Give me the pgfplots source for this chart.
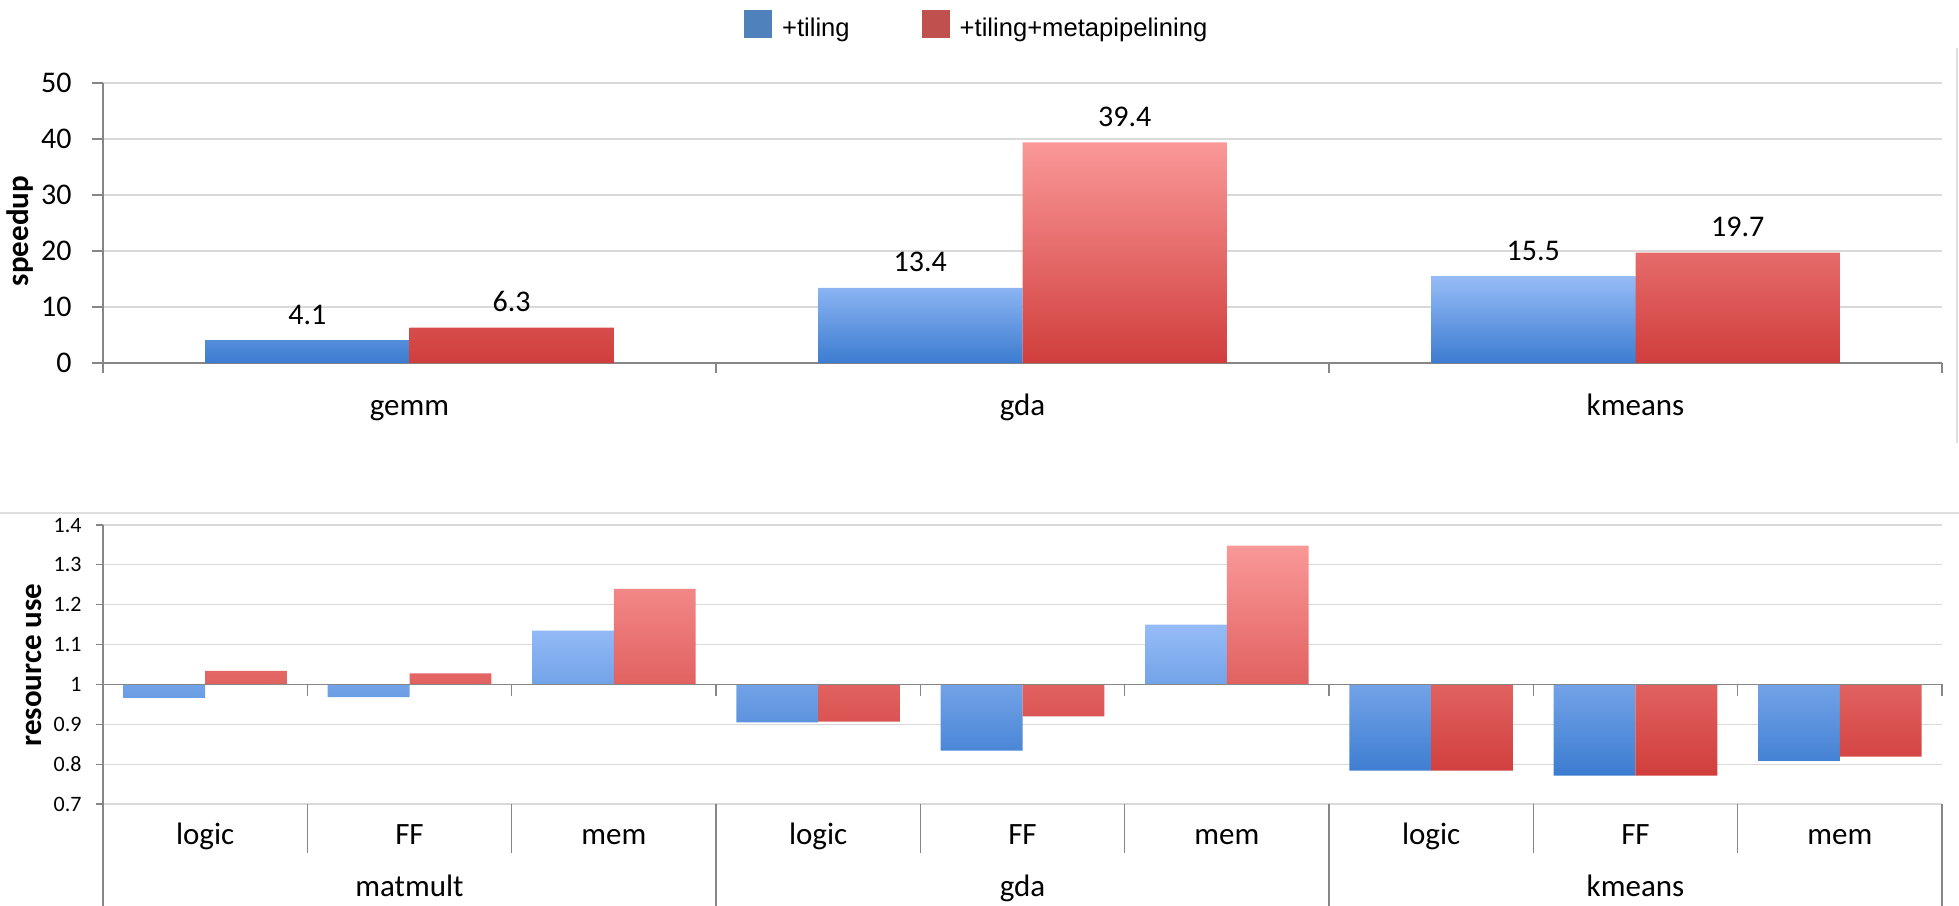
\documentclass[border=0pt]{standalone}
\usepackage{pgfplots}
\pgfplotsset{compat=1.18}
\usepackage{pgfplotstable}
\usepackage{fontspec}
\setmainfont{Carlito}
\newfontfamily\arialfont{Liberation Sans}

\definecolor{bluetop}{RGB}{150,188,247}
\definecolor{bluebot}{RGB}{60,124,208}
\definecolor{redtop}{RGB}{250,152,152}
\definecolor{redbot}{RGB}{208,62,60}
\definecolor{legblue}{RGB}{79,129,189}
\definecolor{legred}{RGB}{192,80,77}
\definecolor{axgray}{RGB}{134,134,134}
\definecolor{gridgray}{RGB}{217,217,217}

\pgfplotstableread{
x tiling meta
0 4.1 6.3
1 13.4 39.4
2 15.5 19.7
}\speedup

\pgfplotstableread{
x tiling meta
0 0.966 1.034
1 0.968 1.028
2 1.135 1.240
3 0.905 0.907
4 0.834 0.920
5 1.150 1.348
6 0.784 0.784
7 0.771 0.771
8 0.808 0.819
}\resource

\begin{document}
\begin{tikzpicture}
\path[use as bounding box] (0pt,-452.5pt) rectangle (979.5pt,0pt);
% faint chart-area borders
\draw[gray!25, line width=0.6pt] (978.5pt,-24pt) -- (978.5pt,-221.5pt);
\draw[gray!25, line width=0.6pt] (0pt,-256.5pt) -- (979.5pt,-256.5pt);

\begin{axis}[
  at={(51.5pt,-181.5pt)}, anchor=south west,
  scale only axis, width=919.5pt, height=140pt,
  clip=false,
  xmin=-0.5, xmax=2.5, ymin=0, ymax=50,
  ytick={0,10,20,30,40,50},
  xtick={0,1,2}, xticklabels={gemm,gda,kmeans},
  axis lines*=left,
  axis line style={axgray, line width=0.6pt},
  xtick style={draw=none},
  ytick style={axgray, line width=0.6pt},
  tick align=outside, major tick length=5.5pt,
  ymajorgrids, grid style={gridgray, line width=0.6pt},
  /pgf/number format/assume math mode=true,
  yticklabel style={font=\fontsize{15}{18}\selectfont, inner sep=0pt, anchor=east, xshift=-10pt},
  xticklabel style={font=\fontsize{15.5}{18}\selectfont, inner sep=0pt, anchor=base, yshift=-20.5pt},
  every axis y label/.style={at={(axis description cs:-0.0451,0.471)}, rotate=90, anchor=center, font=\bfseries\fontsize{15.5}{18}\selectfont},
  ylabel={speedup},
  ybar=0pt, bar width=102.2pt,
  nodes near coords,
  every node near coord/.append style={font=\fontsize{15}{18}\selectfont, anchor=base, inner sep=0pt, yshift=8pt},
  legend image code/.code={\fill[#1] (0pt,-4.7pt) rectangle (14pt,9.2pt); \path (18pt,0pt);},
  legend style={draw=none, fill=none, inner sep=0pt, outer sep=0pt,
    at={(axis description cs:0.3486,1.205)}, anchor=west,
    legend columns=2, font=\arialfont\fontsize{12.8}{15}\selectfont,
    nodes={inner sep=1pt},
    /tikz/every even column/.append style={column sep=35pt}},
  legend cell align=left,
]
\addlegendimage{fill=legblue, draw=none}
\addlegendentry{+tiling}
\addlegendimage{fill=legred, draw=none}
\addlegendentry{+tiling+metapipelining}
\addplot[forget plot, draw=none, top color=bluetop, bottom color=bluebot, bar shift=-51.1pt] table[x=x, y=tiling] {\speedup};
\addplot[forget plot, draw=none, top color=redtop, bottom color=redbot, bar shift=51.1pt] table[x=x, y=meta] {\speedup};
\pgfplotsinvokeforeach{-0.5,0.5,1.5,2.5}{
  \draw[axgray, line width=0.6pt] (axis cs:#1,0) -- ++(0pt,-5pt);
}
\end{axis}

\begin{axis}[
  at={(51.5pt,-402pt)}, anchor=south west,
  scale only axis, width=919.5pt, height=139.5pt,
  clip=false,
  xmin=-0.5, xmax=8.5, ymin=-0.3, ymax=0.4,
  ytick={-0.3,-0.2,-0.1,0,0.1,0.2,0.3,0.4},
  yticklabels={0.7,0.8,0.9,1,1.1,1.2,1.3,1.4},
  xtick={0,1,2,3,4,5,6,7,8},
  xticklabels={logic,FF,mem,logic,FF,mem,logic,FF,mem},
  axis lines*=left,
  y axis line style={axgray, line width=0.6pt},
  x axis line style={gridgray, line width=0.6pt},
  xtick style={draw=none},
  ytick style={axgray, line width=0.6pt},
  tick align=outside, major tick length=3.5pt,
  ymajorgrids, grid style={gridgray, line width=0.6pt},
  yticklabel style={font=\fontsize{11}{13}\selectfont, inner sep=0pt, anchor=east, xshift=-7pt},
  xticklabel style={font=\fontsize{15.5}{18}\selectfont, inner sep=0pt, anchor=base, yshift=-16.5pt},
  every axis y label/.style={at={(axis description cs:-0.0375,0.498)}, rotate=90, anchor=center, font=\bfseries\fontsize{15.5}{18}\selectfont},
  ylabel={resource use},
  ybar=0pt, bar width=40.9pt,
]
\addplot[draw=none, top color=bluetop, bottom color=bluebot, bar shift=-20.45pt] table[x=x, y expr=\thisrow{tiling}-1] {\resource};
\addplot[draw=none, top color=redtop, bottom color=redbot, bar shift=20.45pt] table[x=x, y expr=\thisrow{meta}-1] {\resource};
\draw[axgray, line width=0.6pt] (axis cs:-0.5,0) -- (axis cs:8.5,0);
\pgfplotsinvokeforeach{0.5,1.5,2.5,3.5,4.5,5.5,6.5,7.5,8.5}{
  \draw[axgray, line width=0.6pt] (axis cs:#1,0) -- ++(0pt,-6pt);
}
\pgfplotsinvokeforeach{0.5,1.5,3.5,4.5,6.5,7.5}{
  \draw[axgray, line width=0.6pt] (axis cs:#1,-0.3) -- ++(0pt,-24.5pt);
}
\pgfplotsinvokeforeach{-0.5,2.5,5.5,8.5}{
  \draw[axgray, line width=0.6pt] (axis cs:#1,-0.3) -- ++(0pt,-51pt);
}
\node[font=\fontsize{15.5}{18}\selectfont, anchor=base, inner sep=0pt] at ([yshift=-46.3pt]axis cs:1,-0.3) {matmult};
\node[font=\fontsize{15.5}{18}\selectfont, anchor=base, inner sep=0pt] at ([yshift=-46.3pt]axis cs:4,-0.3) {gda};
\node[font=\fontsize{15.5}{18}\selectfont, anchor=base, inner sep=0pt] at ([yshift=-46.3pt]axis cs:7,-0.3) {kmeans};
\end{axis}
\end{tikzpicture}
\end{document}
